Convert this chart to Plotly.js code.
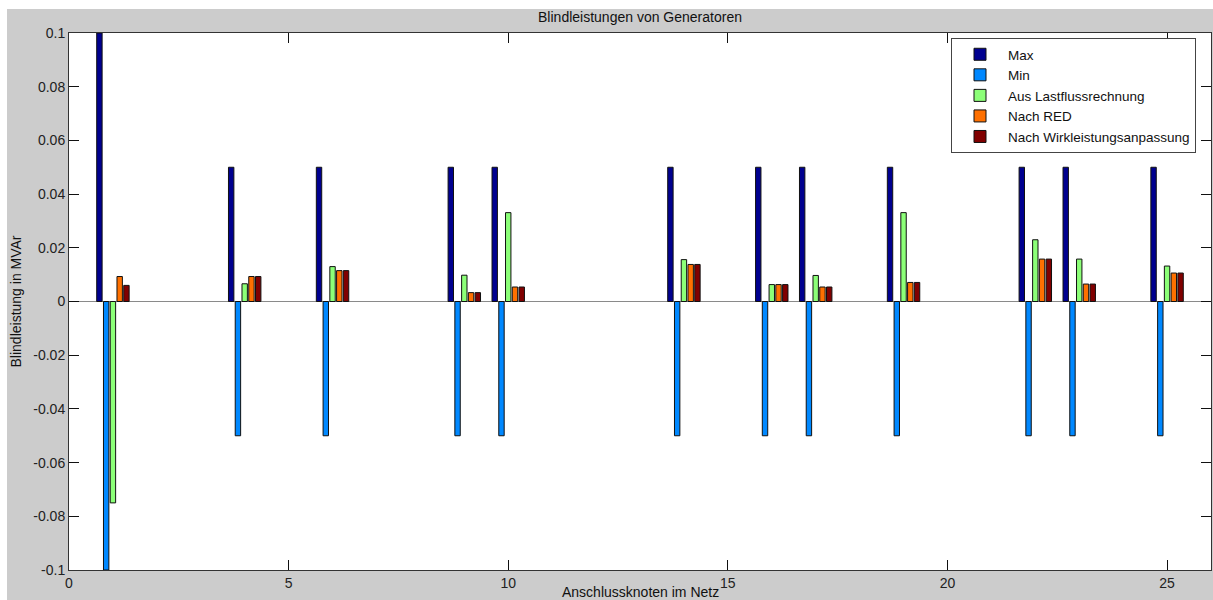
<!DOCTYPE html>
<html>
<head>
<meta charset="utf-8">
<script src="https://cdn.plot.ly/plotly-3.0.1.min.js"></script>
<style>html,body{margin:0;padding:0;background:#fff;}#chart{width:1213px;height:600px;}</style>
</head>
<body>
<div id="chart"></div>
<script>
const nodes = [1, 4, 6, 9, 10, 14, 16, 17, 19, 22, 23, 25];
const maxQ = [0.1, 0.05, 0.05, 0.05, 0.05, 0.05, 0.05, 0.05, 0.05, 0.05, 0.05, 0.05];
const minQ = [-0.1, -0.05, -0.05, -0.05, -0.05, -0.05, -0.05, -0.05, -0.05, -0.05, -0.05, -0.05];
const lastfluss = [-0.075, 0.0066, 0.013, 0.0098, 0.0331, 0.0156, 0.0063, 0.0097, 0.0331, 0.023, 0.0158, 0.0132];
const nachRED = [0.0093, 0.0093, 0.0115, 0.0033, 0.0054, 0.0138, 0.0063, 0.0054, 0.0071, 0.0158, 0.0065, 0.0106];
const nachWirk = [0.006, 0.0093, 0.0115, 0.0033, 0.0054, 0.0138, 0.0063, 0.0054, 0.0071, 0.0158, 0.0065, 0.0106];
const seriesNames = ["Max", "Min", "Aus Lastflussrechnung", "Nach RED", "Nach Wirkleistungsanpassung"];
const seriesValues = [maxQ, minQ, lastfluss, nachRED, nachWirk];
const seriesColors = ["#00008F", "#0088FF", "#8CFF78", "#FF7000", "#800000"];
const yTicks = [-0.1, -0.08, -0.06, -0.04, -0.02, 0, 0.02, 0.04, 0.06, 0.08, 0.1];
const yTickText = ["-0.1", "-0.08", "-0.06", "-0.04", "-0.02", "0", "0.02", "0.04", "0.06", "0.08", "0.1"];
const xTicks = [0, 5, 10, 15, 20, 25];
const xTitle = "Anschlussknoten im Netz";

const traces = seriesNames.map((n, i) => ({
  type: "bar",
  name: n,
  x: nodes,
  y: seriesValues[i],
  marker: {color: seriesColors[i], line: {color: "#111", width: 1}}
}));

const W = 1213, H = 600, ml = 69, mr = 2, mt = 33, mb = 30;
const pw = W - ml - mr, ph = H - mt - mb;
const px = v => (v - ml) / pw;
const py = v => (H - mb - v) / ph;
const font = "Liberation Sans, Arial, sans-serif";
const fs = 14;

const layout = {
  width: W, height: H,
  margin: {l: ml, r: mr, t: mt, b: mb, pad: 0},
  paper_bgcolor: "#cccccc",
  plot_bgcolor: "#ffffff",
  font: {family: font, size: fs, color: "#222"},
  barmode: "group",
  bargap: 0.231,
  bargroupgap: 0.2,
  showlegend: true,
  title: {text: "Blindleistungen von Generatoren", font: {family: font, size: fs, color: "#111"},
          x: 0.5, xref: "paper", y: 1 - 17 / H, yref: "container", yanchor: "middle"},
  xaxis: {
    range: [0, 26], tickvals: xTicks, ticks: "inside", ticklen: 10, tickcolor: "#111",
    showline: true, linecolor: "#333", linewidth: 1, mirror: "ticks", showgrid: false, zeroline: false,
    tickfont: {family: font, size: fs, color: "#222"},
    automargin: false
  },
  yaxis: {
    range: [-0.1, 0.1], tickvals: yTicks, ticktext: yTickText, ticks: "inside", ticklen: 10, tickcolor: "#111",
    showline: true, linecolor: "#333", linewidth: 1, mirror: "ticks", showgrid: false,
    zeroline: true, zerolinecolor: "#8a8a8a", zerolinewidth: 1.5,
    tickfont: {family: font, size: fs, color: "#222"},
    automargin: false,
    title: {text: "Blindleistung in MVAr", font: {family: font, size: fs, color: "#111"}, standoff: 8}
  },
  annotations: [
    {text: xTitle, xref: "paper", yref: "paper", x: 0.5, y: py(592), xanchor: "center", yanchor: "middle",
     showarrow: false, font: {family: font, size: fs, color: "#111"}}
  ],
  legend: {
    x: px(951), y: py(38), xanchor: "left", yanchor: "top",
    bgcolor: "#ffffff", bordercolor: "#444", borderwidth: 1,
    font: {family: font, size: 13.5, color: "#111"},
    tracegroupgap: 0, itemwidth: 46
  },
  shapes: [
    {type: "rect", xref: "paper", yref: "paper", x0: px(0), x1: px(W), y0: py(0), y1: py(9),
     fillcolor: "#ffffff", line: {width: 0}, layer: "below"},
    {type: "rect", xref: "paper", yref: "paper", x0: px(0), x1: px(7), y0: py(0), y1: py(H),
     fillcolor: "#ffffff", line: {width: 0}, layer: "below"}
  ]
};

Plotly.newPlot("chart", traces, layout, {displayModeBar: false, staticPlot: true});
</script>
</body>
</html>
